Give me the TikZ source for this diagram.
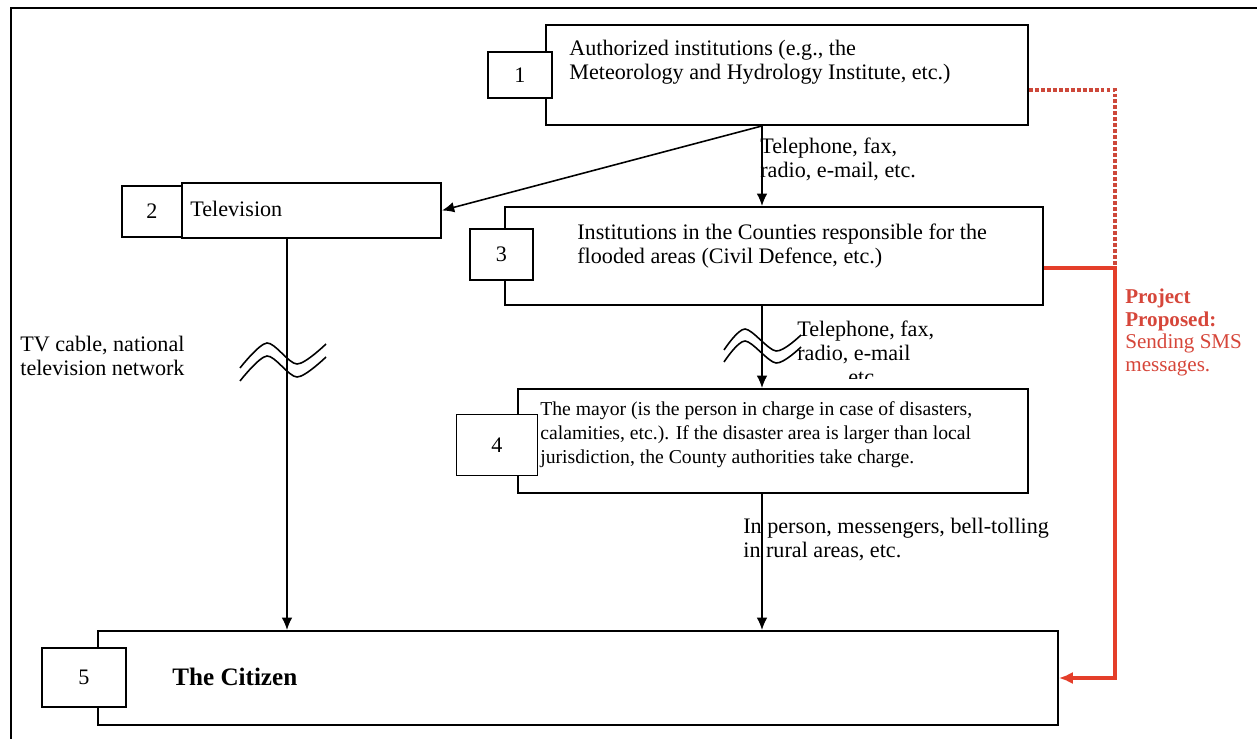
\documentclass[tikz,border=0pt]{standalone}
\usepackage{fontspec}
\setmainfont{Liberation Serif}
\usetikzlibrary{shapes,arrows,arrows.meta,positioning,calc}
\definecolor{smsred}{RGB}{228,62,42}
\definecolor{smsdot}{RGB}{205,72,58}
\definecolor{smstext}{RGB}{214,70,58}

\tikzset{
  mainbox/.style={draw, line width=1.1pt, fill=white, inner sep=0pt},
  numbox/.style={draw, line width=1.1pt, fill=white, inner sep=0pt, font=\fontsize{12.6}{14}\selectfont},
  boxtext/.style={anchor=west, inner sep=0pt, align=left, font=\fontsize{12.6}{13.6}\selectfont},
  link/.style={line width=0.9pt, -{Latex[length=7pt,width=6pt]}},
  wave/.style={line width=0.9pt},
  smsline/.style={draw=smsred, line width=2.2pt},
  smsdots/.style={draw=smsdot, line width=2.2pt, dash pattern=on 2.2pt off 1.2pt},
}

\begin{document}
\begin{tikzpicture}[x=0.02cm, y=-0.02cm]
\useasboundingbox (0,0) rectangle (1257,739);
% outer frame
\draw[line width=1.6pt] (11,739) -- (11,8) -- (1257,8);

% main boxes
\node[mainbox, minimum width=9.64cm, minimum height=2cm] (b1) at (787,75) {};
\node[mainbox, minimum width=5.18cm, minimum height=1.1cm] (b2) at (311.5,210.5) {};
\node[mainbox, minimum width=10.76cm, minimum height=1.96cm] (b3) at (774,256) {};
\node[mainbox, minimum width=10.2cm, minimum height=2.08cm] (b4) at (773,441) {};
\node[mainbox, minimum width=19.2cm, minimum height=1.88cm] (b5) at (578,678) {};

% number boxes
\node[numbox, minimum width=1.28cm, minimum height=0.92cm] (n1) at (520,75) {1};
\node[numbox, minimum width=1.2cm, minimum height=1.02cm] (n2) at (152,211.5) {2};
\node[numbox, minimum width=1.26cm, minimum height=1.02cm] (n3) at (501.5,254.5) {3};
\node[numbox, minimum width=1.62cm, minimum height=1.22cm] (n4) at (497,445) {4};
\node[numbox, minimum width=1.68cm, minimum height=1.18cm] (n5) at (84,677.5) {5};

% box texts
\node[boxtext] (t1) at (569,62.5) {Authorized institutions (e.g., the\\Meteorology and Hydrology Institute, etc.)};
\node[boxtext] (t2) at (190,209) {Television};
\node[boxtext] (t3) at (577,246) {Institutions in the Counties responsible for the\\flooded areas (Civil Defence, etc.)};
\node[boxtext, font=\fontsize{11.2}{13.6}\selectfont] (t4) at (540,435) {The mayor (is the person in charge in case of disasters,\\calamities, etc.). If the disaster area is larger than local\\jurisdiction, the County authorities take charge.};
\node[boxtext, font=\fontsize{14.3}{16}\selectfont\bfseries] (t5) at (172,677) {The Citizen};

% connectors
\coordinate (trunk) at (762,0);
\coordinate (tv) at (287,0);
\draw[link] (b1.south -| trunk) -- (b3.north -| trunk);
\draw[link] (b1.south -| trunk) -- (b2.east);
\draw[link] (b2.south -| tv) -- (b5.north -| tv);
\draw[link] (b3.south -| trunk) -- (b4.north -| trunk);
\draw[link] (b4.south -| trunk) -- (b5.north -| trunk);

% breaks in the lines
\draw[wave] plot[smooth] coordinates {(240,368) (267,343) (297,364) (326,344)};
\draw[wave] plot[smooth] coordinates {(240,381) (267,356) (297,377) (326,357)};
\draw[wave] plot[smooth] coordinates {(724,350) (745,329) (776,351) (801,335)};
\draw[wave] plot[smooth] coordinates {(724,362) (745,341) (776,363) (801,347)};

% connector labels
\node[boxtext] (l13) at (760,159) {Telephone, fax,\\radio, e-mail, etc.};
\begin{scope}
\clip (790,310) rectangle (1000,379);
\node[boxtext] (l34) at (797,353) {Telephone, fax,\\radio, e-mail\\\hspace*{2.3em}etc.};
\end{scope}
\node[boxtext] (ltv) at (20,355.5) {TV cable, national\\television network};
\node[boxtext] (l45) at (743,539.5) {In person, messengers, bell-tolling\\in rural areas, etc.};

% proposed SMS channel
\coordinate (smstop) at (1115,90);
\coordinate (smsjoin) at (1115,268);
\draw[smsdots] (b1.east |- smstop) -- (smstop) -- (smsjoin);
\draw[smsline, -{Latex[length=8pt,width=7pt]}] (b3.east |- smsjoin) -- (smsjoin) |- (b5.east);
\node[boxtext, text=smstext, font=\fontsize{12}{13}\selectfont] (lsms) at (1125,332.5) {\textbf{Project}\\\textbf{Proposed:}\\Sending SMS\\messages.};
\end{tikzpicture}
\end{document}
